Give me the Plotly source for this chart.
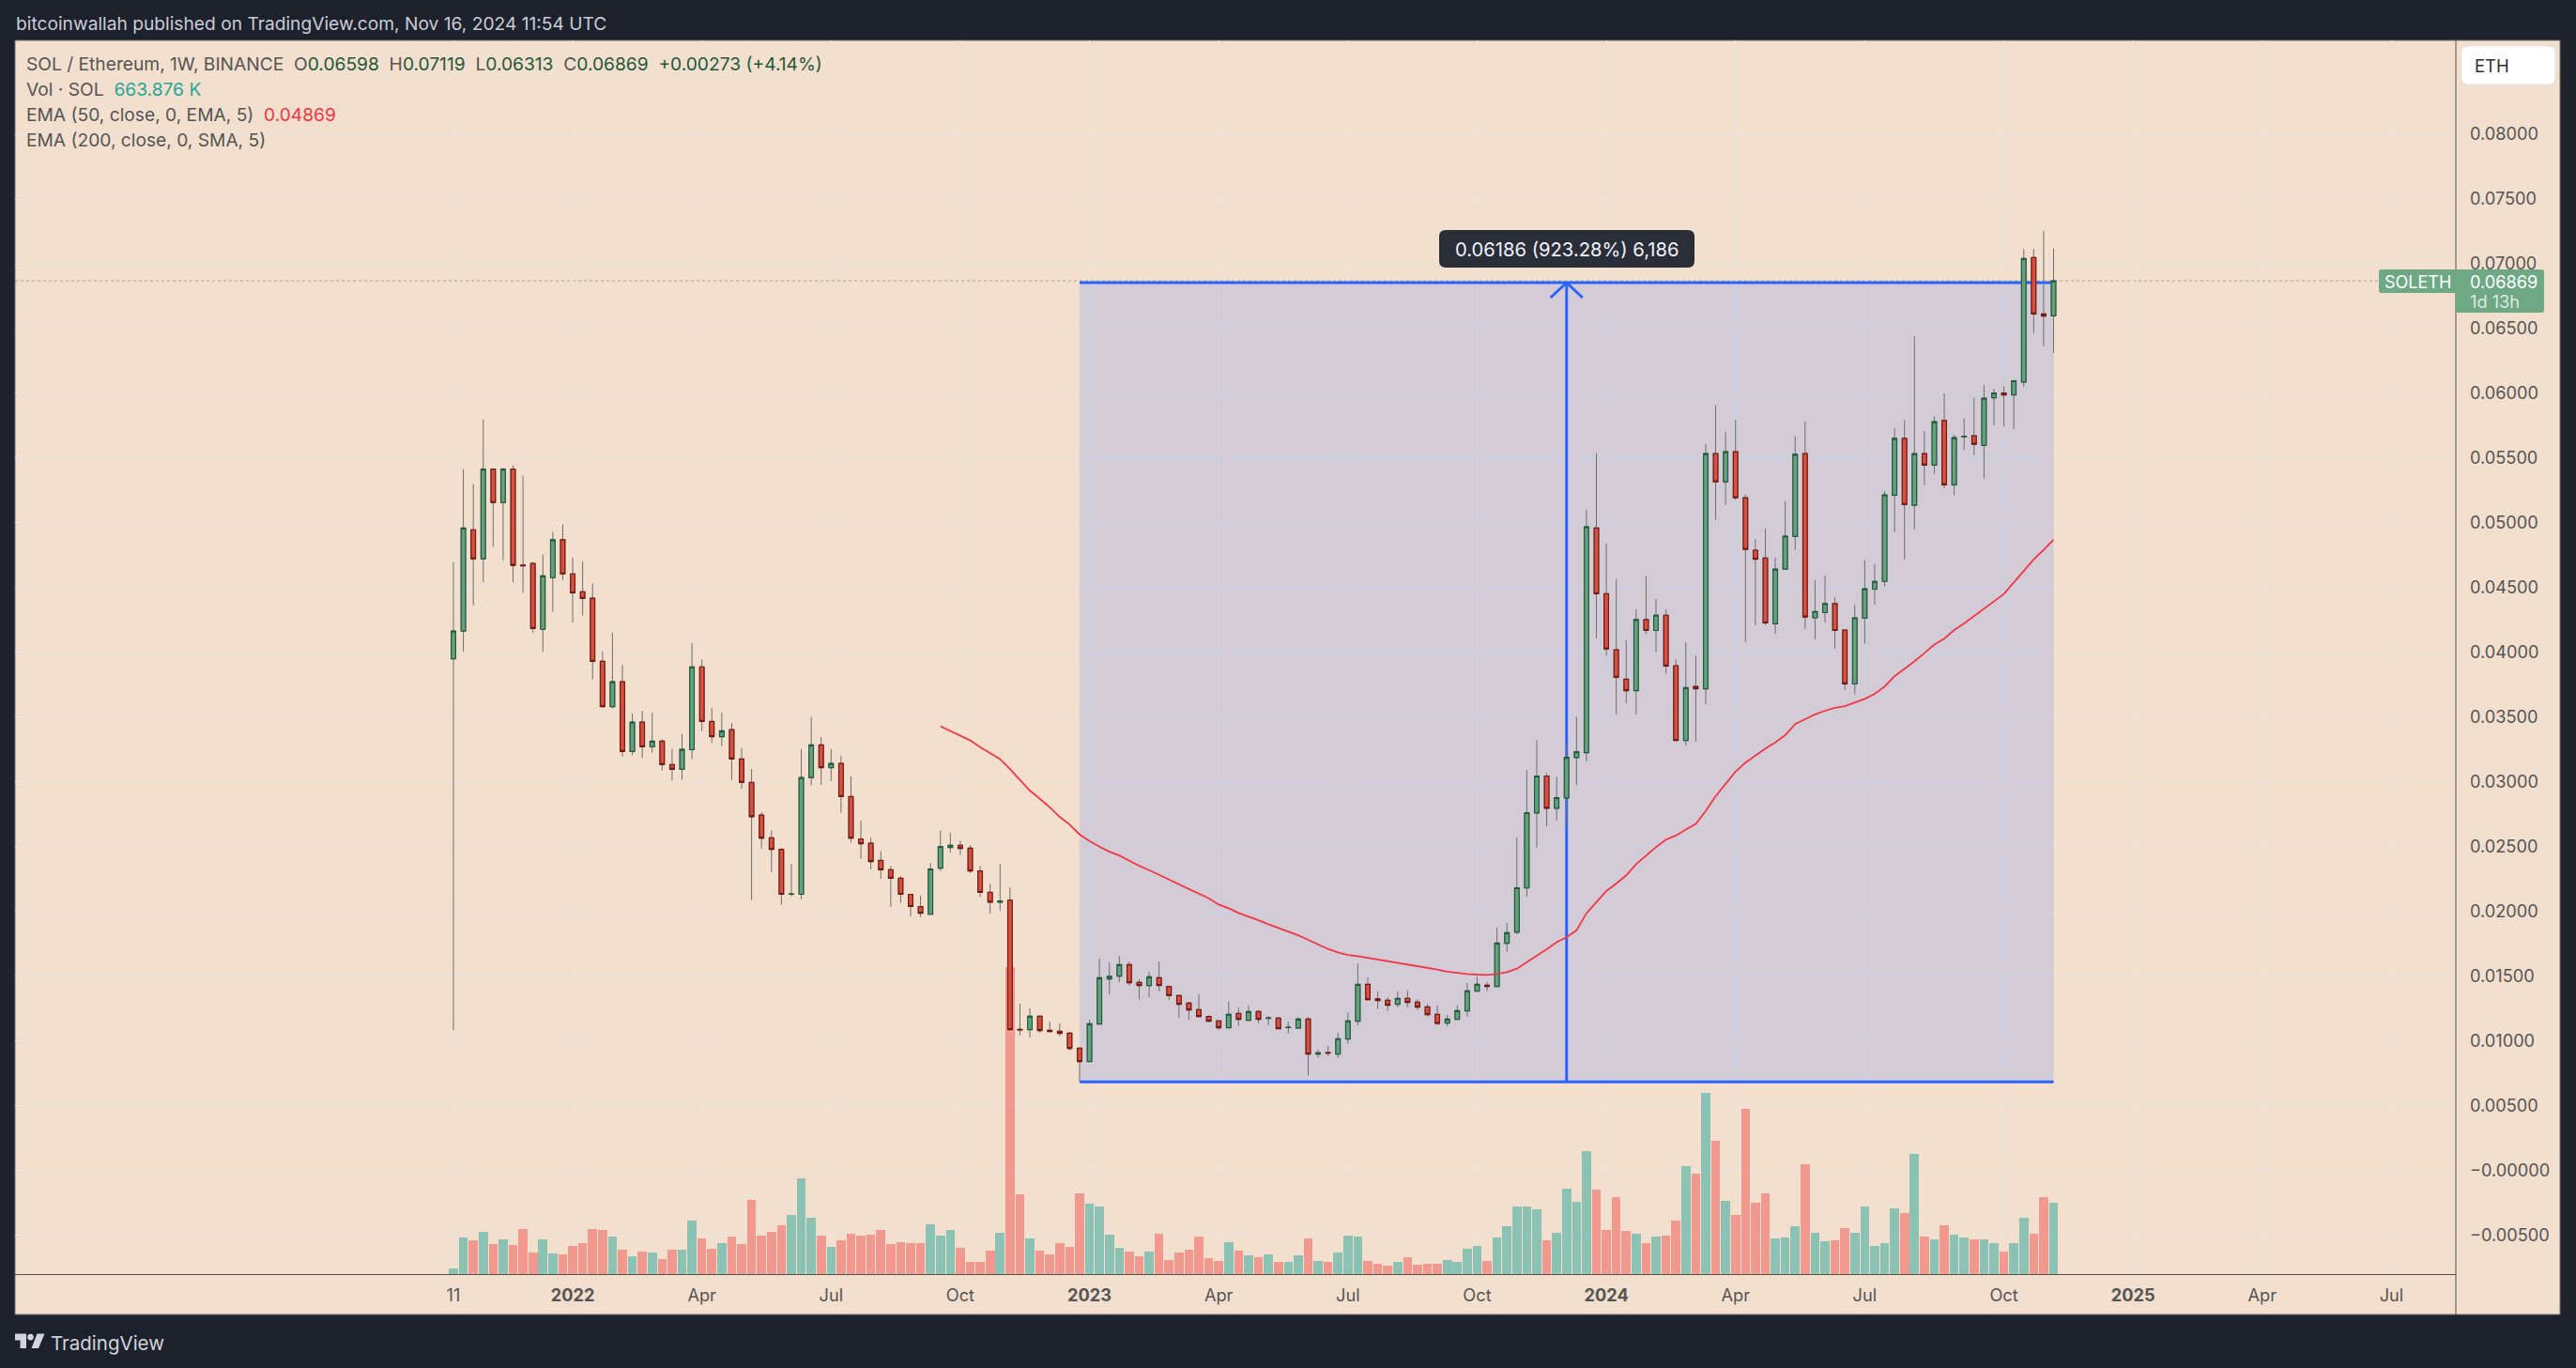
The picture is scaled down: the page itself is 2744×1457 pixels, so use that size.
import numpy as np
import pandas as pd
import plotly.graph_objects as go

W, H = 2744, 1457

# ---------- data ----------
dates = pd.date_range("2021-10-11", periods=162, freq="7D")

opens = [.0395,.04163,.04946,.04722,.05414,.05156,.05414,.04673,.04685,.04177,.04576,.04869,.04605,.04467,.04418,.0393,.0358,.03772,.03233,.0346,
.0327,.03313,.03132,.03095,.03247,.03887,.03465,.03348,.03402,.03175,.02995,.02742,.02567,.02478,.0213,.0213,.03032,.03284,.03109,.03141,
.02885,.02558,.02524,.02392,.0232,.02254,.0213,.02036,.01976,.02332,.02492,.02509,.02487,.02311,.02145,.0207,.02085,.01087,.01085,.01189,
.0108,.01073,.01058,.00942,.00839,.01128,.01476,.01498,.01587,.0145,.01426,.01486,.01418,.01348,.0129,.0124,.01186,.01153,.011,.01211,
.01157,.01225,.01172,.01174,.01101,.01097,.01167,.00897,.00908,.00897,.01013,.0115,.01435,.01322,.01312,.01281,.01327,.01298,.01261,.01203,
.01136,.01165,.0123,.01382,.01428,.01418,.01752,.01838,.02179,.02759,.03044,.02795,.02875,.03186,.03224,.0496,.04452,.04019,.03792,.03703,
.04252,.04168,.04286,.03896,.03319,.03735,.03718,.05534,.05316,.05549,.05193,.04788,.04728,.0422,.04642,.04894,.05534,.04266,.04306,.04375,
.04171,.03755,.04263,.04487,.04547,.05213,.05652,.05135,.05534,.05445,.0579,.05293,.05664,.05672,.05598,.05966,.06003,.05988,.06087,.07048,
.06613,.06598]
highs = [.04696,.05414,.05299,.05798,.05414,.05423,.05443,.05365,.04696,.04754,.04929,.04986,.04731,.04702,.0453,.04008,.04151,.03901,.03528,.03548,
.03534,.0333,.03253,.03368,.04071,.03942,.03571,.03534,.03454,.03259,.03098,.02765,.02624,.02489,.02366,.03253,.035,.03345,.03253,.03201,
.0304,.02699,.0257,.02464,.02349,.02271,.0213,.02119,.02372,.02621,.02604,.02544,.02509,.02349,.02211,.02366,.02184,.01285,.01249,.01189,
.01148,.01133,.01066,.00942,.01162,.01633,.01604,.01655,.01611,.01474,.01532,.01611,.01418,.01355,.013,.01358,.01196,.01157,.013,.01257,
.01271,.01235,.01189,.01184,.01148,.01182,.01182,.00931,.00959,.01061,.01218,.01595,.01488,.0138,.01336,.0138,.01387,.01319,.01283,.01271,
.01198,.01273,.01445,.01496,.01452,.01872,.01909,.02568,.0309,.03321,.03065,.03039,.03295,.03502,.05101,.05537,.0484,.04564,.04094,.04332,
.0459,.04412,.04332,.03944,.04079,.03976,.05609,.05908,.05704,.05796,.05219,.04874,.04955,.04731,.05167,.05669,.05784,.04559,.0459,.04424,
.04177,.04369,.04711,.04682,.05245,.05732,.05793,.06441,.05709,.05821,.05999,.05681,.05807,.05966,.06063,.06034,.06056,.06104,.07116,.07116,
.07254,.07119]
lows = [.0108,.04002,.04363,.04539,.04814,.04711,.04539,.04458,.04151,.04002,.04312,.04559,.04231,.04283,.0379,.03574,.03566,.03195,.03204,.03181,
.03224,.03086,.03009,.03015,.03175,.0339,.03299,.03273,.03015,.02946,.02085,.02484,.02303,.0205,.02113,.02093,.02972,.02977,.03006,.02759,
.0253,.02403,.02323,.02251,.02033,.02065,.01958,.01953,.01976,.02309,.02452,.02432,.02294,.0211,.01981,.02004,.01085,.01042,.01025,.01061,
.01066,.01034,.00923,.00687,.00839,.01128,.01358,.01452,.01426,.01317,.01336,.01382,.01314,.01179,.01162,.01177,.01143,.01083,.011,.01114,
.01157,.01136,.01119,.01092,.01056,.01097,.0073,.00868,.00882,.00868,.00976,.01119,.0131,.01244,.01228,.01259,.01257,.01237,.01186,.01121,
.01112,.01165,.01184,.01382,.01382,.01418,.01684,.01822,.02111,.02488,.02655,.02698,.02648,.02974,.03158,.04108,.03973,.0352,.03606,.0352,
.0414,.04,.03833,.03319,.03281,.0331,.036,.05024,.05138,.05176,.04079,.04208,.04208,.0414,.04642,.04791,.0418,.041,.04231,.04028,
.03709,.03675,.04065,.04369,.04507,.04929,.04716,.04949,.05291,.05379,.05265,.05213,.0556,.05523,.05342,.05753,.05743,.05724,.06051,.06465,
.06363,.06313]
closes = [.04163,.0496,.04722,.05414,.05156,.05414,.04671,.04668,.04183,.0459,.04869,.04605,.04458,.04415,.0393,.0358,.03772,.03233,.0346,.0327,
.03313,.03132,.03095,.0325,.03887,.03465,.03348,.03393,.03175,.02995,.0273,.02564,.02478,.0213,.02133,.03032,.03284,.03109,.03141,.02885,
.02564,.02521,.02383,.0232,.02254,.0213,.02036,.01984,.02326,.025,.02509,.02484,.02311,.02145,.0207,.02079,.01085,.01083,.01189,.01078,
.0107,.01056,.0094,.00839,.01131,.01486,.01496,.01587,.01447,.01426,.01493,.01426,.01348,.01281,.01237,.01186,.0115,.011,.01203,.01165,
.01225,.01165,.01176,.01092,.01104,.01167,.00897,.00906,.00904,.01015,.01153,.01435,.01317,.0131,.01273,.01327,.01295,.01259,.01201,.01133,
.01167,.01232,.01385,.01435,.01418,.01754,.01834,.02181,.02761,.03044,.02795,.02877,.03188,.03232,.04969,.04452,.04025,.03807,.03703,.04252,
.04168,.04286,.03893,.03319,.03726,.03718,.05534,.05316,.05549,.05193,.04794,.04719,.04226,.04642,.04897,.05529,.04272,.04315,.04375,.04168,
.03755,.04266,.0449,.04547,.05216,.05652,.05141,.05534,.05445,.05781,.05293,.05658,.05668,.05606,.05962,.06003,.05988,.06097,.07041,.06613,
.06596,.06869]
volumes_k = [52,341,314,393,280,323,271,419,201,323,192,183,262,288,419,411,349,227,166,210,
201,140,227,227,498,332,236,288,349,280,690,358,393,454,550,891,524,358,253,314,
376,358,367,411,280,297,288,288,463,358,411,245,114,114,218,384,2857,743,332,218,
183,288,253,751,655,629,367,245,210,166,210,376,131,201,227,349,149,122,297,218,
175,157,183,114,114,175,332,122,114,201,358,349,122,96,79,114,157,87,96,96,
131,114,236,262,122,341,446,629,629,603,314,384,795,673,1144,786,411,716,402,376,
288,349,358,498,1005,935,1686,1241,681,550,1538,664,751,332,341,446,1022,384,306,314,
428,384,629,262,288,612,568,1118,349,323,454,367,341,323,323,288,210,288,524,376,
716,664]
ema50 = [.03428,.03391,.03356,.03319,.03267,.03224,.03175,.03098,.03012,.02931,.02868,.02802,.02728,.0267,.02593,
.02541,.02498,.02459,.0243,.02389,.0235,.02317,.0228,.02244,.0221,.02172,.02136,.02099,.02051,.02022,.01986,.01959,.0193,.01899,.0187,
.01843,.01814,.01778,.01742,.01708,.01682,.01662,.01653,.0164,.01628,.01614,.01604,.01592,.0158,.01563,.01549,.01532,.01522,.01515,.0151,
.01508,.01515,.01529,.01556,.01604,.01657,.01706,.01761,.01798,.01852,.01984,.0207,.02156,.02214,.02277,.02363,.02429,.02495,.02553,.02584,
.0263,.02673,.02774,.02888,.02983,.03078,.03147,.03204,.03256,.03304,.03359,.03445,.03482,.0352,.03548,.03571,.03583,.03609,.0364,.03678,
.03735,.03815,.0387,.0393,.03993,.04059,.04105,.04171,.04223,.0428,.04338,.04392,.0445,.04539,.04625,.04716,.04791,.04869]

price_ticks = [.08,.075,.07,.065,.06,.055,.05,.045,.04,.035,.03,.025,.02,.015,.01,.005,0,-.005]
price_labels = ["0.08000","0.07500","0.07000","0.06500","0.06000","0.05500","0.05000","0.04500","0.04000","0.03500",
                "0.03000","0.02500","0.02000","0.01500","0.01000","0.00500","\u22120.00000","\u22120.00500"]
time_ticks = ["2021-10-11","2022-01-03","2022-04-04","2022-07-04","2022-10-03","2023-01-02","2023-04-03","2023-07-03",
              "2023-10-02","2024-01-01","2024-04-01","2024-07-01","2024-10-07","2025-01-06","2025-04-07","2025-07-07"]
time_labels = ["11","<b>2022</b>","Apr","Jul","Oct","<b>2023</b>","Apr","Jul","Oct","<b>2024</b>","Apr","Jul","Oct","<b>2025</b>","Apr","Jul"]

range_start = "2022-12-26"
range_end = "2024-11-11"
range_mid = "2023-12-04"
range_low = 0.00681
range_high = 0.06855
last_close = closes[-1]

# ---------- styles / layout helpers ----------
DARK = "#1d212c"
PEACH = "#f3dfcd"
GRID = "#ebe5de"
BLUE = "#2962ff"
TXT = "#555555"
FONT = "Inter, Roboto, sans-serif"
LEFT, RIGHT, TOP, BOTTOM = 16, 2616, 43, 1357
OUTER_R, OUTER_B = 2727, 1400
BAR_PX = 10.587
Y_PX_PER_UNIT = 13789.0
VOL_K_PER_PX = 8.735

def px(x): return x / W
def py(y): return 1 - y / H
def rrect(x0, y0, x1, y1, r):
    xa, xb, xr = px(x0), px(x1), r / W
    ya, yb, yr = py(y0), py(y1), r / H
    return (f"M{xa+xr},{ya} L{xb-xr},{ya} Q{xb},{ya} {xb},{ya-yr} L{xb},{yb+yr} Q{xb},{yb} {xb-xr},{yb} "
            f"L{xa+xr},{yb} Q{xa},{yb} {xa},{yb+yr} L{xa},{ya-yr} Q{xa},{ya} {xa+xr},{ya} Z")

x_from = (dates[0] + pd.Timedelta(days=7 * (LEFT - 483) / BAR_PX)).floor("s")
x_to = (dates[0] + pd.Timedelta(days=7 * (RIGHT - 483) / BAR_PX)).floor("s")
y_top = 0.07 + (281 - TOP) / Y_PX_PER_UNIT
y_bot = 0.07 - (BOTTOM - 281) / Y_PX_PER_UNIT
vol_max = (BOTTOM - TOP) * VOL_K_PER_PX
def on_vol(p):
    """price -> position on the primary (volume) axis, which carries the layer-between shapes"""
    return (p - y_bot) / (y_top - y_bot) * vol_max

o, h, l, c = map(np.array, (opens, highs, lows, closes))
fig = go.Figure()

# volume (primary axis, below everything)
vol_colors = ["rgba(38,166,154,0.5)" if cc >= oo else "rgba(239,83,80,0.5)" for oo, cc in zip(opens, closes)]
fig.add_trace(go.Bar(x=dates, y=volumes_k, marker=dict(color=vol_colors, line=dict(width=0)),
                     width=9.6 / BAR_PX * 7 * 86400000, yaxis="y", hoverinfo="skip", showlegend=False))

GREEN_FILL, GREEN_EDGE = "#65a17f", "#1f5c3d"
RED_FILL, RED_EDGE = "#d8503f", "#731a12"
WICK = "#6e6e6e"
# wicks
fig.add_trace(go.Candlestick(x=dates, open=o, high=h, low=l, close=c, yaxis="y2", showlegend=False, hoverinfo="skip",
                             increasing=dict(line=dict(color=WICK, width=1), fillcolor=GREEN_FILL),
                             decreasing=dict(line=dict(color=WICK, width=1), fillcolor=RED_FILL)))
# bodies
fig.add_trace(go.Candlestick(x=dates, open=o, high=np.maximum(o, c), low=np.minimum(o, c), close=c, yaxis="y2",
                             showlegend=False, hoverinfo="skip",
                             increasing=dict(line=dict(color=GREEN_EDGE, width=1.2), fillcolor=GREEN_FILL),
                             decreasing=dict(line=dict(color=RED_EDGE, width=1.2), fillcolor=RED_FILL)))
# EMA
fig.add_trace(go.Scatter(x=dates[49:], y=ema50, mode="lines", line=dict(color="#f23645", width=1.8), yaxis="y2",
                         hoverinfo="skip", showlegend=False))

shapes = [
    dict(type="rect", xref="paper", yref="paper", x0=px(LEFT), x1=px(OUTER_R), y0=py(OUTER_B), y1=py(TOP), layer="below",
         fillcolor=PEACH, line=dict(color="#77716c", width=1)),
    dict(type="line", xref="paper", yref="y", x0=px(LEFT), x1=px(2534), y0=on_vol(last_close), y1=on_vol(last_close), layer="between",
         line=dict(color="rgba(70,120,85,0.55)", width=1, dash="dot")),
    dict(type="rect", xref="x", yref="y", x0=range_start, x1=range_end, y0=on_vol(range_low), y1=on_vol(range_high), layer="between",
         fillcolor="rgba(41,98,255,0.16)", line=dict(width=0)),
    dict(type="line", xref="x", yref="y", x0=range_start, x1=range_end, y0=on_vol(range_high), y1=on_vol(range_high), layer="between",
         line=dict(color=BLUE, width=3)),
    dict(type="line", xref="x", yref="y", x0=range_start, x1=range_end, y0=on_vol(range_low), y1=on_vol(range_low), layer="between",
         line=dict(color=BLUE, width=3)),
    dict(type="line", xref="x", yref="y", x0=range_mid, x1=range_mid, y0=on_vol(range_low), y1=on_vol(range_high), layer="between",
         line=dict(color=BLUE, width=3)),
    dict(type="line", xref="paper", yref="paper", x0=px(RIGHT), x1=px(RIGHT), y0=py(OUTER_B), y1=py(TOP), layer="above",
         line=dict(color="#55504c", width=1)),
    # measure label
    dict(type="path", xref="paper", yref="paper", path=rrect(1533, 245, 1805, 285, 7), fillcolor="#2a2e39", line=dict(width=0), layer="above"),
    # ETH badge
    dict(type="path", xref="paper", yref="paper", path=rrect(2622, 49, 2722, 90, 8), fillcolor="#ffffff",
         line=dict(color="#e6e6ee", width=1), layer="above"),
    # last-price badge
    dict(type="path", xref="paper", yref="paper", path=rrect(2534, 287, 2622, 312, 3), fillcolor="#6ea884", line=dict(width=0), layer="above"),
    dict(type="path", xref="paper", yref="paper", path=rrect(2616, 287, 2710, 333, 3), fillcolor="#6ea884", line=dict(width=0), layer="above"),
    # TradingView logo
    dict(type="path", xref="paper", yref="paper", layer="above", fillcolor="#d1d4dc", line=dict(width=0),
         path=f"M{px(16)},{py(1420.5)} L{px(28)},{py(1420.5)} L{px(28)},{py(1436)} L{px(21.5)},{py(1436)} L{px(21.5)},{py(1427.5)} L{px(16)},{py(1427.5)} Z"),
    dict(type="circle", xref="paper", yref="paper", layer="above", fillcolor="#d1d4dc", line=dict(width=0),
         x0=px(29.2), x1=px(35.8), y0=py(1427.5), y1=py(1420.7)),
    dict(type="path", xref="paper", yref="paper", layer="above", fillcolor="#d1d4dc", line=dict(width=0),
         path=f"M{px(39.5)},{py(1420.5)} L{px(47.5)},{py(1420.5)} L{px(41)},{py(1436)} L{px(33.5)},{py(1436)} Z"),
]
# arrow head of the vertical measure line
mid = pd.Timestamp(range_mid)
dx = pd.Timedelta(days=7 * 17 / BAR_PX).floor("s")
dy = 16 / Y_PX_PER_UNIT
for side in (-1, 1):
    shapes.append(dict(type="line", xref="x", yref="y", x0=mid, x1=mid + side * dx, y0=on_vol(range_high), y1=on_vol(range_high - dy),
                       layer="between", line=dict(color=BLUE, width=3)))

def note(x, y, text, size=19.2, color=TXT, xanchor="left", family=FONT):
    return dict(xref="paper", yref="paper", x=px(x), y=py(y), text=text, showarrow=False, xanchor=xanchor, yanchor="middle",
                font=dict(size=size, color=color, family=family), align="left")

VAL = "#22583a"
def span(t, col): return f'<span style="color:{col}">{t}</span>'
legend1 = ("SOL / Ethereum, 1W, BINANCE  " + "O" + span("0.06598", VAL) + "  H" + span("0.07119", VAL) + "  L" + span("0.06313", VAL)
           + "  C" + span("0.06869", VAL) + "  " + span("+0.00273 (+4.14%)", VAL))
annotations = [
    note(15, 25, "bitcoinwallah published on TradingView.com, Nov 16, 2024 11:54 UTC", color="#c9ccd6"),
    note(26, 68, legend1),
    note(26, 95, "Vol \u00b7 SOL  " + span("663.876 K", "#26a69a")),
    note(26, 122, "EMA (50, close, 0, EMA, 5)  " + span("0.04869", "#f23645")),
    note(26, 149, "EMA (200, close, 0, SMA, 5)"),
    note(1669, 265, "0.06186 (923.28%) 6,186", color="#f0f3fa", xanchor="center", size=20.2),
    note(2634, 69.5, "ETH", color="#2a2e39", size=18.5),
    note(2538, 300, "SOLETH", color="#ffffff", size=18),
    note(2629, 300, "0.06869", color="#ffffff", size=18.2),
    note(2629, 321, "1d 13h", color="#dcebe1", size=18.2),
    note(52, 1430, "TradingView", color="#d1d4dc", size=20.5),
]

axis_font = dict(family=FONT, size=18.2, color=TXT)
fig.update_layout(
    width=W, height=H, autosize=False, margin=dict(l=0, r=0, t=0, b=0),
    paper_bgcolor=DARK, plot_bgcolor="rgba(0,0,0,0)", boxgap=0.36, bargap=0, showlegend=False,
    shapes=shapes, annotations=annotations,
    xaxis=dict(domain=[px(LEFT), px(RIGHT)], type="date", range=[x_from, x_to], rangeslider=dict(visible=False),
               tickmode="array", tickvals=time_ticks, ticktext=time_labels, tickfont=axis_font, tickangle=0,
               showgrid=True, gridcolor=GRID, gridwidth=1.2, ticks="", ticklabelstandoff=6,
               showline=True, linecolor="#55504c", linewidth=1, zeroline=False),
    yaxis=dict(domain=[py(BOTTOM), py(TOP)], range=[0, vol_max], showgrid=False, zeroline=False,
               showticklabels=False, ticks=""),
    yaxis2=dict(overlaying="y", side="right", anchor="x", range=[y_bot, y_top], tickmode="array", tickvals=price_ticks,
                ticktext=price_labels, tickfont=axis_font, showgrid=True, gridcolor=GRID, gridwidth=1.2, zeroline=False,
                ticks="", ticklabelstandoff=14, showline=False),
)
fig.write_html("out.html", config=dict(displayModeBar=False),
               post_script="document.body.style.margin='0';document.body.style.overflow='hidden';")
